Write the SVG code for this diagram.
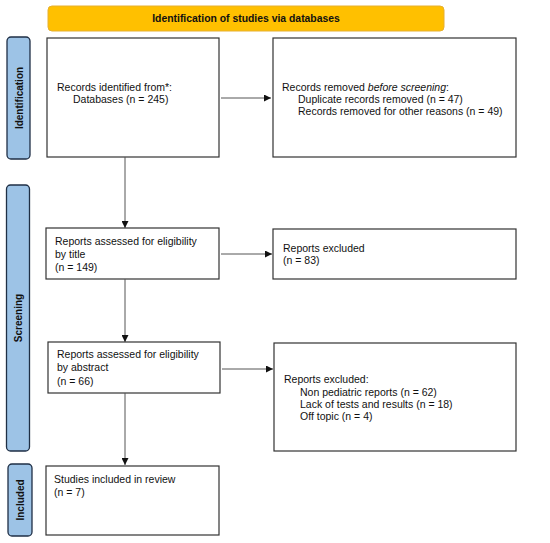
<svg xmlns="http://www.w3.org/2000/svg" width="550" height="543" viewBox="0 0 550 543">
<defs>
<style>
.box{fill:#fff;stroke:#333;stroke-width:1.2}
.side{fill:#9DC3E6;stroke:#1f2f45;stroke-width:1.3}
.t{font-family:"Liberation Sans",Arial,sans-serif;font-size:10.5px;fill:#111}
.sl{font-family:"Liberation Sans",Arial,sans-serif;font-size:10px;font-weight:bold;fill:#111;text-anchor:middle}
.ln{stroke:#555;stroke-width:1;fill:none;marker-end:url(#ah)}
</style>
<marker id="ah" viewBox="0 0 10 10" refX="10" refY="5" markerWidth="7" markerHeight="7" markerUnits="userSpaceOnUse" orient="auto">
<path d="M0,0 L10,5 L0,10 z" fill="#111"/>
</marker>
</defs>
<rect width="550" height="543" fill="#fff"/>
<g id="header">
<rect x="48" y="6" width="396" height="25" rx="4" fill="#FFC000" stroke="#E6B030" stroke-width="1"/>
<text x="246" y="22" class="sl" style="font-size:10.4px">Identification of studies via databases</text>
</g>
<g id="side-identification">
<rect x="7" y="37" width="23" height="122" rx="4" class="side"/>
<text class="sl" transform="translate(22.5,98) rotate(-90)">Identification</text>
</g>
<g id="side-screening">
<rect x="6.5" y="185" width="23" height="266" rx="4" class="side"/>
<text class="sl" transform="translate(22,318) rotate(-90)">Screening</text>
</g>
<g id="side-included">
<rect x="8" y="464" width="24" height="72" rx="4" class="side"/>
<text class="sl" transform="translate(23.5,500) rotate(-90)">Included</text>
</g>
<g id="records-identified">
<rect x="47" y="38" width="172" height="119" class="box"/>
<text class="t" x="57" y="91">Records identified from*:</text>
<text class="t" x="73" y="103">Databases (n = 245)</text>
</g>
<g id="records-removed">
<rect x="273" y="38" width="243" height="119" class="box"/>
<text class="t" x="282" y="91">Records removed <tspan font-style="italic">before screening</tspan>:</text>
<text class="t" x="298" y="103">Duplicate records removed (n = 47)</text>
<text class="t" x="298" y="115">Records removed for other reasons (n = 49)</text>
</g>
<g id="reports-title">
<rect x="46" y="228" width="173" height="51" class="box"/>
<text class="t" x="55" y="245">Reports assessed for eligibility</text>
<text class="t" x="55" y="258">by title</text>
<text class="t" x="55" y="271">(n = 149)</text>
</g>
<g id="excluded-title">
<rect x="273" y="229" width="243" height="50" class="box"/>
<text class="t" x="283" y="252">Reports excluded</text>
<text class="t" x="283" y="264">(n = 83)</text>
</g>
<g id="reports-abstract">
<rect x="48" y="342" width="172" height="51" class="box"/>
<text class="t" x="57" y="358">Reports assessed for eligibility</text>
<text class="t" x="57" y="371">by abstract</text>
<text class="t" x="57" y="385">(n = 66)</text>
</g>
<g id="excluded-abstract">
<rect x="274" y="343" width="242" height="108" class="box"/>
<text class="t" x="284" y="383">Reports excluded:</text>
<text class="t" x="300" y="396">Non pediatric reports (n = 62)</text>
<text class="t" x="300" y="408">Lack of tests and results (n = 18)</text>
<text class="t" x="300" y="420">Off topic (n = 4)</text>
</g>
<g id="included">
<rect x="46" y="466" width="173" height="69" class="box"/>
<text class="t" x="54" y="483">Studies included in review</text>
<text class="t" x="54" y="496">(n = 7)</text>
</g>
<g id="connectors">
<line x1="221" y1="98" x2="271" y2="98" class="ln"/>
<line x1="125" y1="157" x2="125" y2="228" class="ln"/>
<line x1="221" y1="254" x2="272" y2="254" class="ln"/>
<line x1="125" y1="279" x2="125" y2="342" class="ln"/>
<line x1="222" y1="369" x2="273" y2="369" class="ln"/>
<line x1="125" y1="393" x2="125" y2="465" class="ln"/>
</g>
</svg>
